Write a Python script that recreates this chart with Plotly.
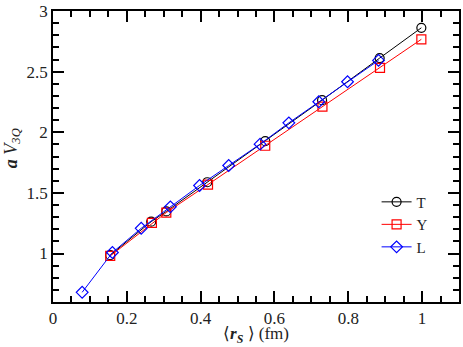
import plotly.graph_objects as go

T_x = [0.155, 0.266, 0.307, 0.418, 0.575, 0.729, 0.885, 0.998]
T_y = [0.986, 1.263, 1.347, 1.588, 1.927, 2.265, 2.612, 2.862]

Y_x = [0.155, 0.268, 0.307, 0.420, 0.575, 0.730, 0.886, 0.998]
Y_y = [0.980, 1.252, 1.338, 1.569, 1.889, 2.211, 2.531, 2.767]

L_x = [0.079, 0.161, 0.239, 0.318, 0.397, 0.476, 0.561, 0.639, 0.720, 0.798, 0.882]
L_y = [0.680, 1.008, 1.208, 1.385, 1.561, 1.726, 1.902, 2.078, 2.252, 2.417, 2.593]

X_RANGE = [0, 1.1]
Y_RANGE = [0.6, 3.0005]

FONT = "Liberation Serif, Times New Roman, serif"

fig = go.Figure()
for name, xs, ys, col, sym in [
    ("T", T_x, T_y, "black", "circle-open"),
    ("Y", Y_x, Y_y, "red", "square-open"),
    ("L", L_x, L_y, "blue", "diamond-open"),
]:
    fig.add_trace(go.Scatter(
        x=xs, y=ys, name=name, mode="lines+markers",
        line=dict(color=col, width=1),
        marker=dict(symbol=sym, size=9, color=col, line=dict(width=1.2, color=col)),
    ))

fig.update_xaxes(
    range=X_RANGE, dtick=0.2, tick0=0,
    ticks="inside", ticklen=11, tickwidth=1.5, tickcolor="black",
    showline=True, linecolor="black", linewidth=1.5, mirror="allticks",
    minor=dict(ticks="inside", ticklen=6, dtick=0.05, tickwidth=1.5, tickcolor="black"),
    zeroline=False, gridcolor="white",
    tickfont=dict(family=FONT, size=17, color="#222"),
    ticklabeloverflow="allow",
)
fig.update_yaxes(
    range=Y_RANGE, dtick=0.5, tick0=0,
    ticks="inside", ticklen=11, tickwidth=1.5, tickcolor="black",
    showline=True, linecolor="black", linewidth=1.5, mirror="allticks",
    minor=dict(ticks="inside", ticklen=6, dtick=0.1, tickwidth=1.5, tickcolor="black"),
    zeroline=False, gridcolor="white",
    tickfont=dict(family=FONT, size=17, color="#222"),
    ticklabeloverflow="allow",
)

fig.add_annotation(text="⟨<b><i>r<sub>S</sub></i></b> ⟩ (fm)", xref="paper", yref="paper",
                   x=0.5, y=-0.07, xanchor="center", yanchor="top", showarrow=False,
                   font=dict(family=FONT, size=17, color="#222"))
fig.add_annotation(text="<b><i>a</i></b> <i>V<sub>3Q</sub></i>", xref="paper", yref="paper",
                   x=-0.1, y=0.53, xanchor="center", yanchor="middle", showarrow=False,
                   textangle=-90, font=dict(family=FONT, size=18, color="#222"))

fig.update_layout(
    width=463, height=347,
    margin=dict(l=53, r=2, t=7, b=45),
    plot_bgcolor="white", paper_bgcolor="white",
    legend=dict(x=0.797, y=0.40, xanchor="left", yanchor="top",
                font=dict(family=FONT, size=15, color="#222"),
                bgcolor="rgba(0,0,0,0)", tracegroupgap=0, itemwidth=30),
    showlegend=True,
)

fig.write_html("out.html", config={"displayModeBar": False},
               post_script="document.body.style.margin='0';")
